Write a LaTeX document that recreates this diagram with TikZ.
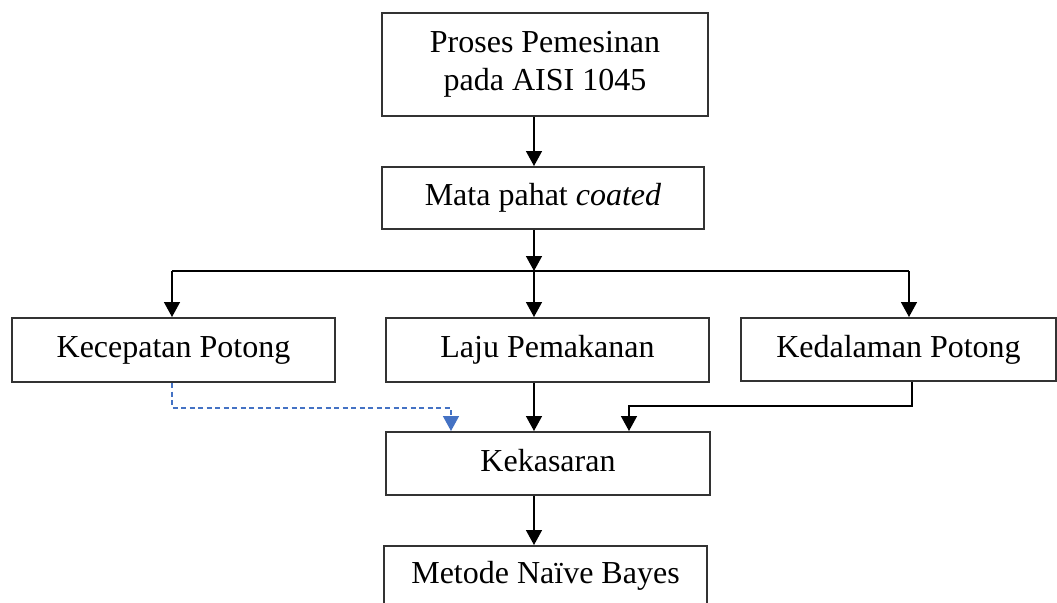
\documentclass[tikz,border=0pt]{standalone}
\usepackage{fontspec}
\setmainfont{Liberation Serif}
\usetikzlibrary{arrows.meta}
\definecolor{blueline}{HTML}{4472C4}

\begin{document}
\begin{tikzpicture}[x=0.5pt, y=-0.5pt, font=\fontsize{16}{19}\selectfont, line join=miter, >={Triangle[length=7.5pt,width=8pt]},
	box/.style={draw=black!80, line width=1pt, inner sep=0pt, align=center},
	oneline/.style={box, text height=11pt, text depth=3.5pt},
	link/.style={line width=0.75pt, ->},
	dashlink/.style={line width=0.75pt, draw=blueline, dash pattern=on 2.5pt off 1.75pt, ->}]
		\useasboundingbox (0,0) rectangle (1057,602);
		\clip (0,0) rectangle (1057,602);
		% boxes
		\node[box, minimum width=163pt, minimum height=51.5pt] (proses) at (545,64.5) {Proses Pemesinan\\pada AISI 1045};
		\node[oneline, minimum width=161pt, minimum height=31pt] (mata) at (543,198) {Mata pahat \textit{coated}};
		\node[oneline, minimum width=161.5pt, minimum height=32pt] (kecepatan) at (173.5,350) {Kecepatan Potong};
		\node[oneline, minimum width=161.5pt, minimum height=32pt] (laju) at (547.5,350) {Laju Pemakanan};
		\node[oneline, minimum width=157.5pt, minimum height=31.5pt] (kedalaman) at (898.5,349.5) {Kedalaman Potong};
		\node[oneline, minimum width=162pt, minimum height=31.5pt] (kekasaran) at (548,463.5) {Kekasaran};
		\node[oneline, minimum width=161.5pt, minimum height=29.5pt] (metode) at (545.5,575.5) {Metode Naïve Bayes};
		% branch points
		\coordinate (spine) at (534,271);
		\coordinate (left) at (172,271);
		\coordinate (right) at (909,271);
		\coordinate (cut) at (451,408);
		\coordinate (depth) at (912,406);
		\coordinate (join) at (629,406);
		% connectors
		\draw[link] (proses.south -| spine) -- (mata.north -| spine);
		\draw[link] (mata.south -| spine) -- (spine);
		\draw[line width=0.75pt] (left) -- (right);
		\draw[link] (left) -- (left |- kecepatan.north);
		\draw[link] (spine) -- (spine |- laju.north);
		\draw[link] (right) -- (right |- kedalaman.north);
		\draw[dashlink] (kecepatan.south -| left) |- (cut) -- (cut |- kekasaran.north);
		\draw[link] (laju.south -| spine) -- (spine |- kekasaran.north);
		\draw[link] (kedalaman.south -| depth) -- (depth) -| (kekasaran.north -| join);
		\draw[link] (kekasaran.south -| spine) -- (metode.north -| spine);
	\end{tikzpicture}
\end{document}
